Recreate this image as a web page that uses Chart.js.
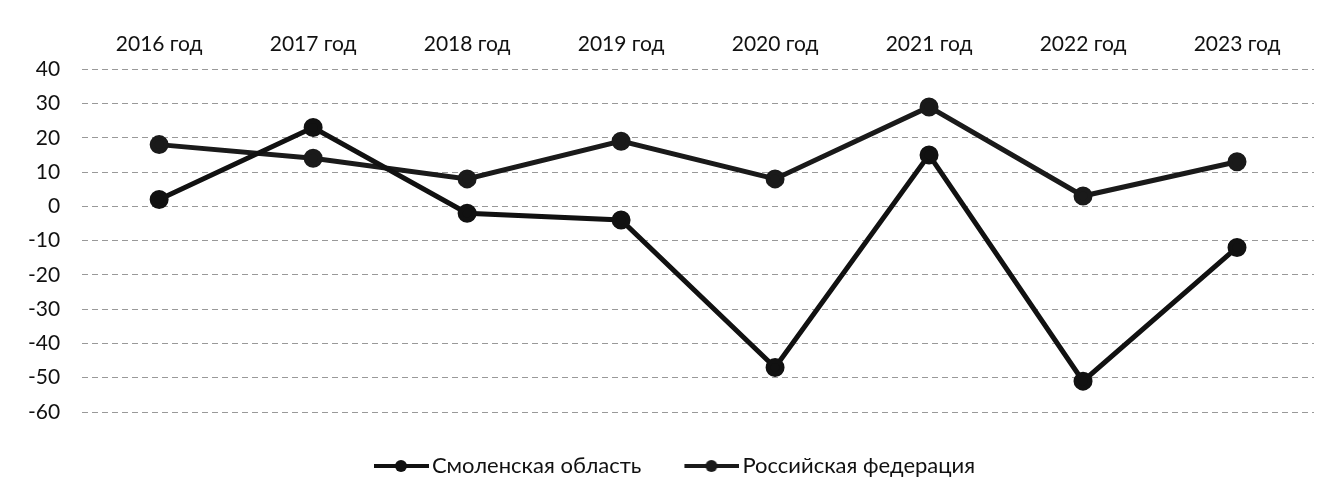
<!DOCTYPE html>
<html>
<head>
<meta charset="utf-8">
<script src="https://cdn.jsdelivr.net/npm/chart.js@4/dist/chart.umd.min.js"></script>
<style>
  html, body { margin: 0; padding: 0; background: #fff; }
  #wrap { width: 1332px; height: 499px; }
</style>
</head>
<body>
<div id="wrap"><canvas id="growthChart"></canvas></div>
<script>
// Data
const years = ['2016 год', '2017 год', '2018 год', '2019 год', '2020 год', '2021 год', '2022 год', '2023 год'];
const smolensk = [2, 23, -2, -4, -47, 15, -51, -12];
const russia = [18, 14, 8, 19, 8, 29, 3, 13];

const FONT = 'Lato';
const BOXW = 76;

// legend marker: thick line with a dot, shifted so it sits right before the text
function legendMarker(color) {
    const c = document.createElement('canvas');
    c.width = 92; c.height = 16;
    const g = c.getContext('2d');
    g.strokeStyle = color;
    g.lineWidth = 4;
    g.beginPath(); g.moveTo(37, 8); g.lineTo(92, 8); g.stroke();
    g.fillStyle = color;
    g.beginPath(); g.arc(64, 8, 6, 0, Math.PI * 2); g.fill();
    return c;
}

const ctx = document.getElementById('growthChart').getContext('2d');
new Chart(ctx, {
    type: 'line',
    data: {
        labels: years,
        datasets: [{
            label: 'Смоленская область',
            data: smolensk,
            borderColor: '#111',
            backgroundColor: '#111',
            borderWidth: 5,
            pointRadius: 7,
            pointHoverRadius: 7
        }, {
            label: 'Российская федерация',
            data: russia,
            borderColor: '#1a1a1a',
            backgroundColor: '#1a1a1a',
            borderWidth: 5,
            pointRadius: 7,
            pointHoverRadius: 7
        }]
    },
    options: {
        responsive: true,
        maintainAspectRatio: false,
        animation: false,
        layout: { padding: { left: 6, right: 18, top: 28, bottom: 12 } },
        scales: {
            x: {
                position: 'top',
                offset: true,
                grid: { display: false },
                border: { display: false },
                ticks: { color: '#111', font: { family: FONT, size: 21 }, padding: 4, maxRotation: 0 }
            },
            y: {
                min: -60,
                max: 40,
                ticks: { stepSize: 10, color: '#111', font: { family: FONT, size: 21 }, padding: 22 },
                grid: { color: '#999', lineWidth: 1, drawTicks: false },
                border: { display: false, dash: [6, 4] }
            }
        },
        plugins: {
            legend: {
                position: 'bottom',
                title: { display: true, text: '', font: { size: 10 }, padding: { top: 17, bottom: 0 } },
                labels: {
                    color: '#111',
                    font: { family: FONT, size: 22 },
                    padding: 14,
                    usePointStyle: true,
                    pointStyleWidth: BOXW,
                    generateLabels: chart => chart.data.datasets.map((ds, i) => ({
                        text: ds.label,
                        fontColor: '#111',
                        pointStyle: legendMarker(ds.borderColor),
                        datasetIndex: i,
                        hidden: false,
                        lineWidth: 0
                    }))
                }
            },
            tooltip: { enabled: false }
        }
    }
});
</script>
</body>
</html>
